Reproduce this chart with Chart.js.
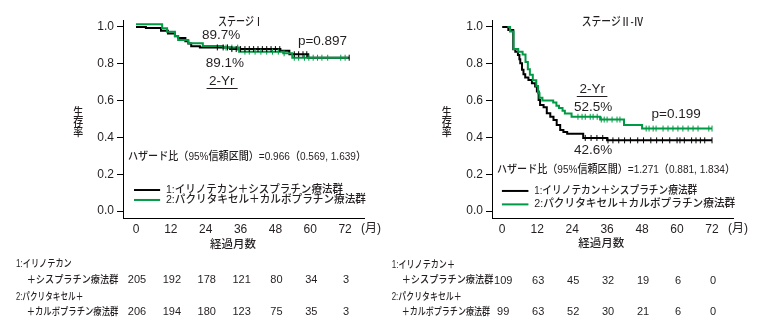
<!DOCTYPE html>
<html><head><meta charset="utf-8">
<script src="https://cdn.jsdelivr.net/npm/chart.js@4.4.1/dist/chart.umd.min.js"></script>
<style>
html,body{margin:0;padding:0;background:#fff;}
#wrap{position:relative;width:766px;height:331px;overflow:hidden;background:#fff;}
canvas{position:absolute;top:0;}
</style></head><body>
<div id="wrap">
<canvas id="c1" width="390" height="331" style="left:0;width:390px;height:331px"></canvas>
<canvas id="c2" width="376" height="331" style="left:390px;width:376px;height:331px"></canvas>
</div>
<script>
// ---------- data ----------
const xTickValues = [0, 12, 24, 36, 48, 60, 72];
const yTickValues = [0, 0.2, 0.4, 0.6, 0.8, 1.0];
const groupNames = ['1:イリノテカン＋シスプラチン療法群', '2:パクリタキセル＋カルボプラチン療法群'];

// Stage I
const stageI_g1_time = [0, 3.4, 8.6, 11, 13.4, 14.5, 17, 18, 19, 22, 32.4, 49.7, 52.8, 59.3, 73.4];
const stageI_g1_surv = [1.0, 0.995, 0.98, 0.965, 0.95, 0.94, 0.922, 0.91, 0.895, 0.889, 0.88, 0.871, 0.852, 0.833, 0.833];
const stageI_g1_censor = [28, 30, 31.5, 33, 34.5, 36, 37.5, 39, 40.5, 42, 43.5, 45, 46.5, 48, 49.5, 54.5, 56, 57.5, 58.8, 73.4];
const stageI_g2_time = [0, 9.0, 10.7, 13.4, 14.5, 18, 23, 30, 35.5, 50.7, 53.8, 73.2];
const stageI_g2_surv = [1.015, 0.993, 0.974, 0.951, 0.929, 0.911, 0.897, 0.888, 0.866, 0.857, 0.833, 0.833];
const stageI_g2_censor = [31, 33, 35, 37.5, 39, 41, 43, 45, 47, 49, 51, 54.5, 56, 58, 59.5, 61, 62.5, 64, 66, 70.5, 72];
const stageI_risk_g1 = [205, 192, 178, 121, 80, 34, 3];
const stageI_risk_g2 = [206, 194, 180, 123, 75, 35, 3];

// Stage II-IV
const stageIV_g1_time = [0, 2.1, 3.8, 4.5, 5.4, 5.9, 6.2, 6.8, 7.3, 7.9, 9.0, 10.2, 11.3, 11.9, 12.5, 13.0, 14.2, 15.3, 16.5, 17.6, 18.7, 19.9, 21.0, 22.3, 27.8, 36.0, 72];
const stageIV_g1_surv = [1.0, 0.984, 0.879, 0.866, 0.848, 0.825, 0.803, 0.768, 0.743, 0.725, 0.712, 0.694, 0.676, 0.649, 0.603, 0.576, 0.564, 0.531, 0.512, 0.494, 0.467, 0.44, 0.43, 0.42, 0.397, 0.384, 0.384];
const stageIV_g1_censor = [28.5, 30.5, 32.5, 34.5, 36.3, 38, 40, 42, 44, 46.5, 48.5, 51, 53, 55, 57.5, 60, 61, 62.5, 65, 66.5, 68, 69.5, 72];
const stageIV_g2_time = [1.8, 2.7, 3.9, 5.5, 7.0, 8.0, 8.8, 9.5, 10.5, 11.7, 12.3, 12.8, 13.8, 17.5, 18.6, 19.5, 20.7, 21.5, 23.8, 33.6, 41.8, 48, 72];
const stageIV_g2_surv = [1.0, 0.975, 0.88, 0.866, 0.85, 0.81, 0.77, 0.74, 0.71, 0.68, 0.64, 0.615, 0.60, 0.59, 0.572, 0.56, 0.545, 0.53, 0.512, 0.497, 0.467, 0.448, 0.448];
const stageIV_g2_censor = [26, 27.4, 28.5, 30.2, 31.2, 32.6, 34, 35, 36, 37.7, 39.4, 40.4, 49.4, 50.4, 51.8, 52.8, 55.2, 56.9, 58.6, 60.3, 62, 63.8, 65.5, 67.2, 70.9, 72];
const stageIV_risk_g1 = [109, 63, 45, 32, 19, 6, 0];
const stageIV_risk_g2 = [99, 63, 52, 30, 21, 6, 0];

// ---------- helpers ----------
const GREEN = '#009944';
const TXT = '#231f20';
const LAT = "'Liberation Sans', Arial, sans-serif";
const MIX = "'Liberation Sans', 'Noto Sans CJK JP', sans-serif";

function kmPoints(t, s) { return t.map((x, i) => ({x: x, y: s[i]})); }
function censorPoints(t, s, c) {
  return c.map(x => { let y = s[0]; for (let i = 0; i < t.length; i++) { if (t[i] <= x) y = s[i]; } return {x: x, y: y}; });
}
function drawText(ctx, txt, x, y, font, align, w) {
  ctx.save();
  ctx.font = font; ctx.fillStyle = TXT; ctx.textBaseline = 'middle'; ctx.textAlign = 'left';
  const nat = ctx.measureText(txt).width;
  const sx = w ? w / nat : 1;
  const x0 = align === 'center' ? x - nat * sx / 2 : x;
  ctx.translate(x0, y); ctx.scale(sx, 1);
  ctx.fillText(txt, 0, 0);
  ctx.restore();
}

function annotPlugin(p) {
  return {
    id: 'annot_' + p.id,
    afterDraw(chart) {
      const ctx = chart.ctx, xs = chart.scales.x, ys = chart.scales.y;
      const X = m => xs.getPixelForValue(m), Y = s => ys.getPixelForValue(s);
      const JF = '500 11px ' + MIX;
      // title
      drawText(ctx, p.title.t, X(p.title.m), Y(p.title.s), '500 12px ' + MIX, 'center', p.title.w);
      // notes
      p.notes.forEach(n => drawText(ctx, n[0], X(n[1]), Y(n[2]), '13.5px ' + LAT, 'center'));
      // underline
      ctx.save(); ctx.strokeStyle = TXT; ctx.lineWidth = 1; ctx.beginPath();
      const uy = Math.round(Y(p.underline.s)) + 0.5;
      ctx.moveTo(X(p.underline.m0), uy); ctx.lineTo(X(p.underline.m1), uy); ctx.stroke(); ctx.restore();
      // hazard ratio
      drawText(ctx, p.hazard.t, X(p.hazard.m), Y(p.hazard.s), JF, 'left', p.hazard.w);
      // legend
      const cols = ['#000', GREEN];
      for (let i = 0; i < 2; i++) {
        ctx.save(); ctx.strokeStyle = cols[i]; ctx.lineWidth = 2; ctx.beginPath();
        const ly = Y(p.legend.s[i]);
        ctx.moveTo(X(p.legend.m0), ly); ctx.lineTo(X(p.legend.m1), ly); ctx.stroke(); ctx.restore();
        drawText(ctx, groupNames[i], X(p.legend.tm), ly, JF, 'left', p.legend.w[i]);
      }
      // y label (stacked)
      const yl = ['生', '存', '率'];
      yl.forEach((c, i) => drawText(ctx, c, p.ylab.x, p.ylab.y + i * 10, '500 11px ' + MIX, 'center', 10));
      // x title & unit
      drawText(ctx, '経過月数', X(p.xTitle.m), p.xTitle.y, '500 11.5px ' + MIX, 'center', 46);
      drawText(ctx, '(月)', X(72) + 16, 228.5, '12px ' + MIX, 'left');
      // risk table
      p.riskLabels.forEach(r => drawText(ctx, r[0], r[1], r[2], '500 10.5px ' + MIX, 'left', r[3]));
      [p.risk1, p.risk2].forEach((row, k) => {
        row.forEach((v, i) => drawText(ctx, String(v), X(xTickValues[i]) + 1, p.riskY[k], '11px ' + LAT, 'center'));
      });
    }
  };
}

function build(p) {
  const ctx = document.getElementById(p.id).getContext('2d');
  return new Chart(ctx, {
    type: 'line',
    data: { datasets: [
      { data: censorPoints(p.t1, p.s1, p.c1), showLine: false, pointStyle: 'line', rotation: 90, pointRadius: 3, pointBorderWidth: 1, borderColor: '#000', backgroundColor: '#000', pointBorderColor: '#000' },
      { data: censorPoints(p.t2, p.s2, p.c2), showLine: false, pointStyle: 'line', rotation: 90, pointRadius: 3, pointBorderWidth: 1, borderColor: GREEN, backgroundColor: GREEN, pointBorderColor: GREEN },
      { data: kmPoints(p.t2, p.s2), stepped: true, borderColor: GREEN, borderWidth: 2, pointRadius: 0, fill: false },
      { data: kmPoints(p.t1, p.s1), stepped: true, borderColor: '#000', borderWidth: 2, pointRadius: 0, fill: false }
    ]},
    options: {
      responsive: false, animation: false, devicePixelRatio: 1, events: [],
      layout: { padding: { top: 20, left: 0, right: p.padRight, bottom: 0 } },
      plugins: { legend: { display: false }, tooltip: { enabled: false }, title: { display: false } },
      scales: {
        x: { type: 'linear', min: p.xmin, max: p.xmax,
          afterBuildTicks: s => { s.ticks = xTickValues.map(v => ({value: v})); },
          afterFit: s => { s.height = 113; },
          grid: { display: false, drawTicks: false },
          border: { display: true, color: '#000', width: 1 },
          ticks: { color: TXT, font: { family: LAT, size: 12 }, padding: 4, maxRotation: 0, autoSkip: false, callback: v => String(v) }
        },
        y: { type: 'linear', min: -0.038, max: 1.038,
          afterBuildTicks: s => { s.ticks = yTickValues.map(v => ({value: v})); },
          afterFit: s => { s.width = p.yWidth; },
          grid: { display: true, drawOnChartArea: false, drawTicks: true, tickLength: 6, color: '#000', lineWidth: 1 },
          border: { display: true, color: '#000', width: 1 },
          ticks: { color: TXT, font: { family: LAT, size: 12 }, padding: 3, callback: v => Number(v).toFixed(1) }
        }
      }
    },
    plugins: [annotPlugin(p)]
  });
}

build({
  id: 'c1', yWidth: 123, padRight: 26, xmin: -4.48, xmax: 78.5,
  t1: stageI_g1_time, s1: stageI_g1_surv, c1: stageI_g1_censor,
  t2: stageI_g2_time, s2: stageI_g2_surv, c2: stageI_g2_censor,
  risk1: stageI_risk_g1, risk2: stageI_risk_g2,
  title: { t: 'ステージⅠ', m: 36.0, s: 1.024, w: 45 },
  notes: [['89.7%', 29.3, 0.957], ['p=0.897', 64.2, 0.924], ['89.1%', 30.6, 0.804], ['2-Yr', 29.5, 0.704]],
  underline: { m0: 24.3, m1: 35.0, s: 0.670 },
  hazard: { t: 'ハザード比（95%信頼区間）=0.966（0.569, 1.639）', m: -2.76, s: 0.293, w: 238 },
  legend: { m0: -0.7, m1: 8.3, s: [0.114, 0.060], tm: 10.3, w: [177, 200] },
  ylab: { x: 78.3, y: 112.5 },
  xTitle: { m: 33.4, y: 245 },
  riskLabels: [['1:イリノテカン', 16, 264, 55.7], ['＋シスプラチン療法群', 26.7, 280, 91.6], ['2:パクリタキセル＋', 16, 297, 67.3], ['＋カルボプラチン療法群', 26.7, 312, 91.6]],
  riskY: [280, 312]
});

build({
  id: 'c2', yWidth: 102, padRight: 33, xmin: -3.5, xmax: 79.2,
  t1: stageIV_g1_time, s1: stageIV_g1_surv, c1: stageIV_g1_censor,
  t2: stageIV_g2_time, s2: stageIV_g2_surv, c2: stageIV_g2_censor,
  risk1: stageIV_risk_g1, risk2: stageIV_risk_g2,
  title: { t: 'ステージⅡ-Ⅳ', m: 37.9, s: 1.024, w: 61.6 },
  notes: [['2-Yr', 30.9, 0.660], ['52.5%', 31.2, 0.561], ['p=0.199', 59.7, 0.527], ['42.6%', 31.2, 0.332]],
  underline: { m0: 25.6, m1: 36.1, s: 0.627 },
  hazard: { t: 'ハザード比（95%信頼区間）=1.271（0.881, 1.834）', m: -1.8, s: 0.223, w: 238 },
  legend: { m0: -0.1, m1: 9.0, s: [0.109, 0.036], tm: 11.0, w: [163, 201] },
  ylab: { x: 56.7, y: 112.5 },
  xTitle: { m: 34, y: 244 },
  riskLabels: [['1:イリノテカン＋', 1.7, 265, 63.3], ['＋シスプラチン療法群', 11.7, 280.5, 91.6], ['2:パクリタキセル＋', 1.7, 297, 70], ['＋カルボプラチン療法群', 11.7, 312, 88.3]],
  riskY: [280.5, 312]
});
</script>
</body></html>
